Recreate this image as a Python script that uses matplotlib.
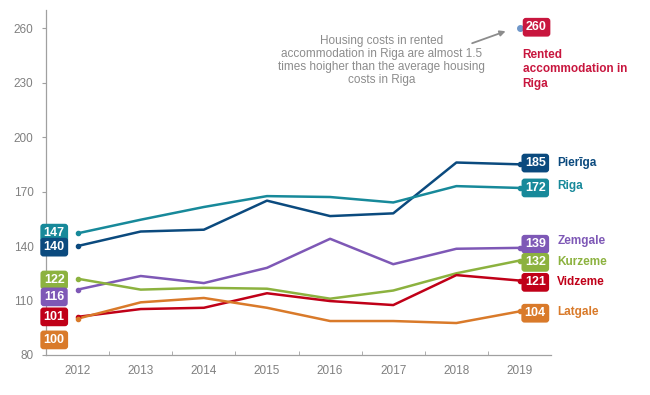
import matplotlib
matplotlib.use("Agg")
import matplotlib.pyplot as plt

plt.rcParams['font.family'] = ['Liberation Sans', 'DejaVu Sans']

years = [2012, 2013, 2014, 2015, 2016, 2017, 2018, 2019]

pieriga = [140, 148, 149, 165, 156.5, 158, 186, 185]
riga = [147, 154.5, 161.5, 167.5, 167, 164, 173, 172]
zemgale = [116, 123.5, 119.6, 128, 144, 130, 138.5, 139]
kurzeme = [122, 116, 117, 116.5, 111, 115.5, 125, 132]
vidzeme = [101, 105.3, 106, 114, 109.7, 107.5, 124, 121]
latgale = [100, 109, 111.4, 106, 98.7, 98.7, 97.6, 104]
rented_riga = 260

names = ['Pierīga', 'Riga', 'Zemgale', 'Kurzeme', 'Vidzeme', 'Latgale']
series = [pieriga, riga, zemgale, kurzeme, vidzeme, latgale]
colors = ['#0b4a7e', '#17899a', '#7e58b6', '#8cb23f', '#c00018', '#d97a2a']

# label layout (y positions of boxes, to avoid overlap)
left_box_y = [139.4, 147.1, 112, 121.3, 101, 88.3]
left_z = [7, 6, 7, 6, 6, 6]
right_box_y = [185.7, 172, 141, 131, 120, 103]
name_y = [186, 173, 143, 131, 120, 103.5]

fig = plt.figure(figsize=(6.5, 3.95), dpi=100)
ax = fig.add_axes([0.0708, 0.1013, 0.777, 0.8734])

for vals, c in zip(series, colors):
    ax.plot(years, vals, color=c, lw=1.8, solid_capstyle='round', zorder=3)
    ax.plot([years[0], years[-1]], [vals[0], vals[-1]], 'o', color=c, ms=3, zorder=4)

box_kw = dict(boxstyle='round,pad=0.27,rounding_size=0.25', ec='none')
for vals, c, ly, lz, ry, nm, ny in zip(series, colors, left_box_y, left_z, right_box_y, names, name_y):
    ax.text(2011.63, ly, f'{vals[0]:.0f}', color='white', fontsize=9, fontweight='bold',
            ha='center', va='center', bbox=dict(fc=c, **box_kw), zorder=lz, clip_on=False)
    ax.text(2019.25, ry, f'{vals[-1]:.0f}', color='white', fontsize=9, fontweight='bold',
            ha='center', va='center', bbox=dict(fc=c, **box_kw), zorder=5, clip_on=False)
    ax.text(2019.6, ny, nm, color=c, fontsize=8.5, fontweight='bold',
            ha='left', va='center', clip_on=False)

# rented accommodation in Riga
ax.plot([years[-1]], [rented_riga], 'o', color='#6f97c9', ms=4, zorder=4)
ax.text(2019.27, 260.5, f'{rented_riga}', color='white', fontsize=9, fontweight='bold',
        ha='center', va='center', bbox=dict(fc='#c8163e', **box_kw), zorder=5, clip_on=False)
ax.text(2019.05, 248.5, 'Rented\naccommodation in\nRiga', color='#c8163e', fontsize=8.5,
        fontweight='bold', ha='left', va='top', linespacing=1.25, clip_on=False)

ax.text(2016.82, 242, 'Housing costs in rented\naccommodation in Riga are almost 1.5\n'
        'times hoigher than the average housing\ncosts in Riga',
        color='#8c8c8c', fontsize=8.5, ha='center', va='center', linespacing=1.1)
ax.annotate('', xy=(2018.78, 258.3), xytext=(2018.25, 251.7),
            arrowprops=dict(arrowstyle='-|>', color='#8c8c8c', lw=1.3, mutation_scale=8,
                            shrinkA=0, shrinkB=0),
            annotation_clip=False)

ax.set_xlim(2011.5, 2019.5)
ax.set_ylim(80, 270)
ax.set_yticks(range(80, 261, 30))
ax.set_xticks(years)
ax.set_xticks([y + 0.5 for y in years[:-1]], minor=True)
ax.tick_params(axis='x', which='major', length=0, colors='#808080', labelsize=8.5, pad=7)
ax.tick_params(axis='x', which='minor', length=3, direction='in', color='#a0a0a0')
ax.tick_params(axis='y', length=3, color='#a0a0a0', labelcolor='#808080', labelsize=8.5, pad=6)

for s in ['top', 'right']:
    ax.spines[s].set_visible(False)
for s in ['left', 'bottom']:
    ax.spines[s].set_color('#a0a0a0')
    ax.spines[s].set_linewidth(0.9)

fig.savefig('out.png', dpi=100)
